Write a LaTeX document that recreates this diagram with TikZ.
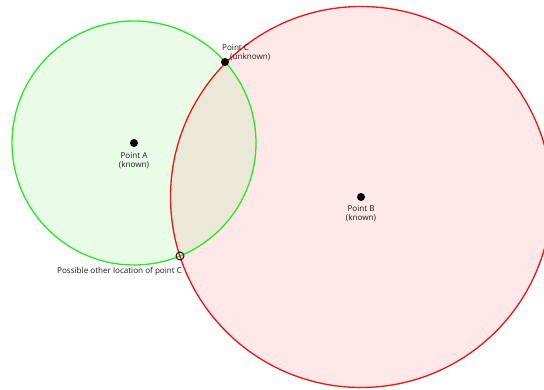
\documentclass[tikz,border=0pt]{standalone}
\usepackage{fontspec}
\setmainfont{Open Sans}
\begin{document}
\begin{tikzpicture}[x=1pt,y=-1pt,
  lbl/.style={font=\fontsize{8.1}{9}\selectfont, text=black!90, inner sep=0pt},
  dot/.style={circle, fill=black, inner sep=0pt, minimum size=8pt}]
  \definecolor{gfill}{RGB}{232,252,232}
  \definecolor{rfill}{RGB}{255,232,232}
  \definecolor{ofill}{RGB}{234,232,214}
  \definecolor{gline}{RGB}{40,230,40}
  \definecolor{rline}{RGB}{240,20,20}
  \useasboundingbox (0,0) rectangle (544,390);
  % filled discs
  \fill[rfill] (361,197) circle (190.5);
  \fill[gfill] (134,143) circle (122);
  \begin{scope}
    \clip (361,197) circle (190.5);
    \fill[ofill] (134,143) circle (122);
  \end{scope}
  % outlines
  \draw[gline, line width=1.3pt] (134,143) circle (122);
  \draw[rline, line width=1.3pt] (361,197) circle (190.5);
  % points
  \node[dot] (A) at (134,143) {};
  \node[dot] (B) at (361,197) {};
  \node[dot] (C) at (225,62) {};
  \node[circle, draw=black, line width=0.9pt, inner sep=0pt, minimum size=8pt] (C2) at (180,256) {};
  % labels
  \node[lbl, anchor=base] at (134,159) {Point A};
  \node[lbl, anchor=base] at (134,168) {(known)};
  \node[lbl, anchor=base] at (361,212) {Point B};
  \node[lbl, anchor=base] at (361,221) {(known)};
  \node[lbl, anchor=base west] at (222,51) {Point C};
  \node[lbl, anchor=base west] at (230,60) {(unknown)};
  \node[lbl, anchor=base west] at (57,274) {Possible other location of point C};
\end{tikzpicture}
\end{document}
